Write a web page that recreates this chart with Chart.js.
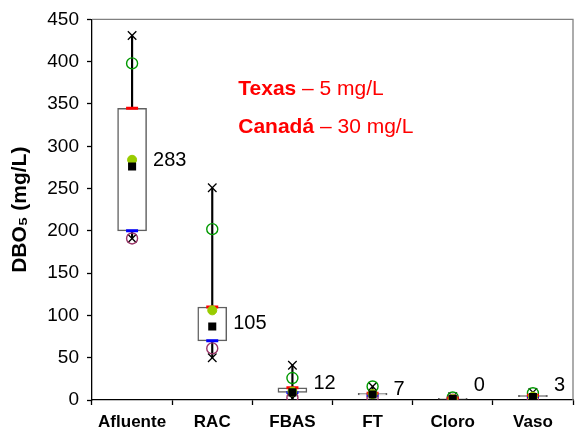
<!DOCTYPE html>
<html>
<head>
<meta charset="utf-8">
<script src="https://cdn.jsdelivr.net/npm/chart.js@4/dist/chart.umd.min.js"></script>
<style>
html,body{margin:0;padding:0;background:#fff;}
#wrap{width:583px;height:434px;position:relative;}
</style>
</head>
<body>
<div id="wrap"><canvas id="c"></canvas></div>
<script>
const categories = ['Afluente', 'RAC', 'FBAS', 'FT', 'Cloro', 'Vaso'];
const maxVals   = [431, 251, 41, 16, 4, 9];
const upperCirc = [398, 202, 26, 16, 3, 8];
const q3Vals    = [345, 110, 14.5, 8, 2, 5.5];
const q1Vals    = [200, 70, 9, 6, 1, 4];
const lowerCirc = [191, 61, 3, 2.5, 0.5, 1];
const minVals   = [191, 50, 2, 2, 0, 1];
const dotVals   = [284, 106, 10, 7, 1, 4];
const squareVals= [276, 87, 9, 6.5, 1, 3.5];
const labelTexts= ['283', '105', '12', '7', '0', '3'];
const labelAt   = [283, 91, 19, 12, 17, 17];
const yTicks    = [0, 50, 100, 150, 200, 250, 300, 350, 400, 450];

const FONT = "'Liberation Sans', Arial, 'DejaVu Sans', sans-serif";

const extras = {
  id: 'extras',
  afterDatasetsDraw(chart) {
    const {ctx, chartArea: a, scales: {x, y}} = chart;
    ctx.save();
    ctx.strokeStyle = '#808080';
    ctx.lineWidth = 1.3;
    ctx.beginPath();
    ctx.moveTo(a.left, a.top);
    ctx.lineTo(a.right, a.top);
    ctx.lineTo(a.right, a.bottom);
    ctx.stroke();
    ctx.fillStyle = '#000';
    ctx.font = '20px ' + FONT;
    ctx.textAlign = 'left';
    ctx.textBaseline = 'middle';
    labelTexts.forEach((t, i) => {
      ctx.fillText(t, x.getPixelForValue(i) + 21, y.getPixelForValue(labelAt[i]));
    });
    const ax = x.getPixelForValue(1) + 26;
    const lines = [['Texas', ' \u2013 5 mg/L', 361], ['Canad\u00e1', ' \u2013 30 mg/L', 316]];
    ctx.fillStyle = '#ff0000';
    ctx.textBaseline = 'alphabetic';
    lines.forEach(([b, r, v]) => {
      const yy = y.getPixelForValue(v);
      ctx.font = 'bold 21px ' + FONT;
      ctx.fillText(b, ax, yy);
      const w = ctx.measureText(b).width;
      ctx.font = '21px ' + FONT;
      ctx.fillText(r, ax + w, yy);
    });
    ctx.restore();
  }
};

const pt = (label, data, style, radius, bg, border, bw, order) => ({
  type: 'line', label, data, showLine: false, pointStyle: style,
  pointRadius: radius, pointHoverRadius: radius,
  pointBackgroundColor: bg, pointBorderColor: border, pointBorderWidth: bw, order
});

new Chart(document.getElementById('c'), {
  type: 'bar',
  data: {
    labels: categories,
    datasets: [
      { label: 'range', data: minVals.map((m, i) => [m, maxVals[i]]), backgroundColor: '#000',
        barThickness: 1.5, grouped: false, order: 20 },
      { label: 'box', data: q1Vals.map((q, i) => [q, q3Vals[i]]), backgroundColor: '#fff',
        borderColor: '#606060', borderWidth: 1.5, borderSkipped: false, barThickness: 29, grouped: false, order: 19 },
      pt('min', minVals, 'crossRot', 6, '#000', '#000', 1.3, 9),
      pt('max', maxVals, 'crossRot', 6, '#000', '#000', 1.3, 8),
      pt('upper', upperCirc, 'circle', 5.5, 'rgba(0,0,0,0)', '#009900', 1.4, 7),
      pt('lower', lowerCirc, 'circle', 5.5, 'rgba(0,0,0,0)', '#993366', 1.4, 6),
      pt('q1', q1Vals, 'line', 6, '#0000ff', '#0000ff', 3, 5),
      pt('q3', q3Vals, 'line', 6, '#ff0000', '#ff0000', 3, 4),
      pt('dot', dotVals, 'circle', 4.5, '#99cc00', '#99cc00', 1, 3),
      pt('square', squareVals, 'rect', 5.7, '#000', '#000', 0, 2)
    ]
  },
  options: {
    responsive: true, maintainAspectRatio: false, animation: false,
    layout: { padding: { top: 18, right: 10, left: 0, bottom: 0 } },
    plugins: { legend: { display: false }, tooltip: { enabled: false } },
    scales: {
      x: {
        offset: true,
        grid: { offset: true, drawOnChartArea: false, color: '#000', tickLength: 5, tickWidth: 1.3 },
        border: { color: '#000', width: 1.3 },
        ticks: { color: '#000', font: { family: FONT, size: 17, weight: 'bold' }, padding: 7 },
        afterFit(s) { s.height = 34; }
      },
      y: {
        min: 0, max: 450,
        afterBuildTicks(s) { s.ticks = yTicks.map(v => ({ value: v })); },
        grid: { drawOnChartArea: false, color: '#000', tickLength: 5, tickWidth: 1.3 },
        border: { color: '#000', width: 1.3 },
        ticks: { color: '#000', font: { family: FONT, size: 19 }, padding: 8 },
        title: { display: true, text: 'DBO\u2085 (mg/L)', color: '#000',
          font: { family: FONT, size: 21, weight: 'bold' }, padding: { top: 8, bottom: 0 } },
        afterFit(s) { s.width = 92; }
      }
    }
  },
  plugins: [extras]
});
</script>
</body>
</html>
